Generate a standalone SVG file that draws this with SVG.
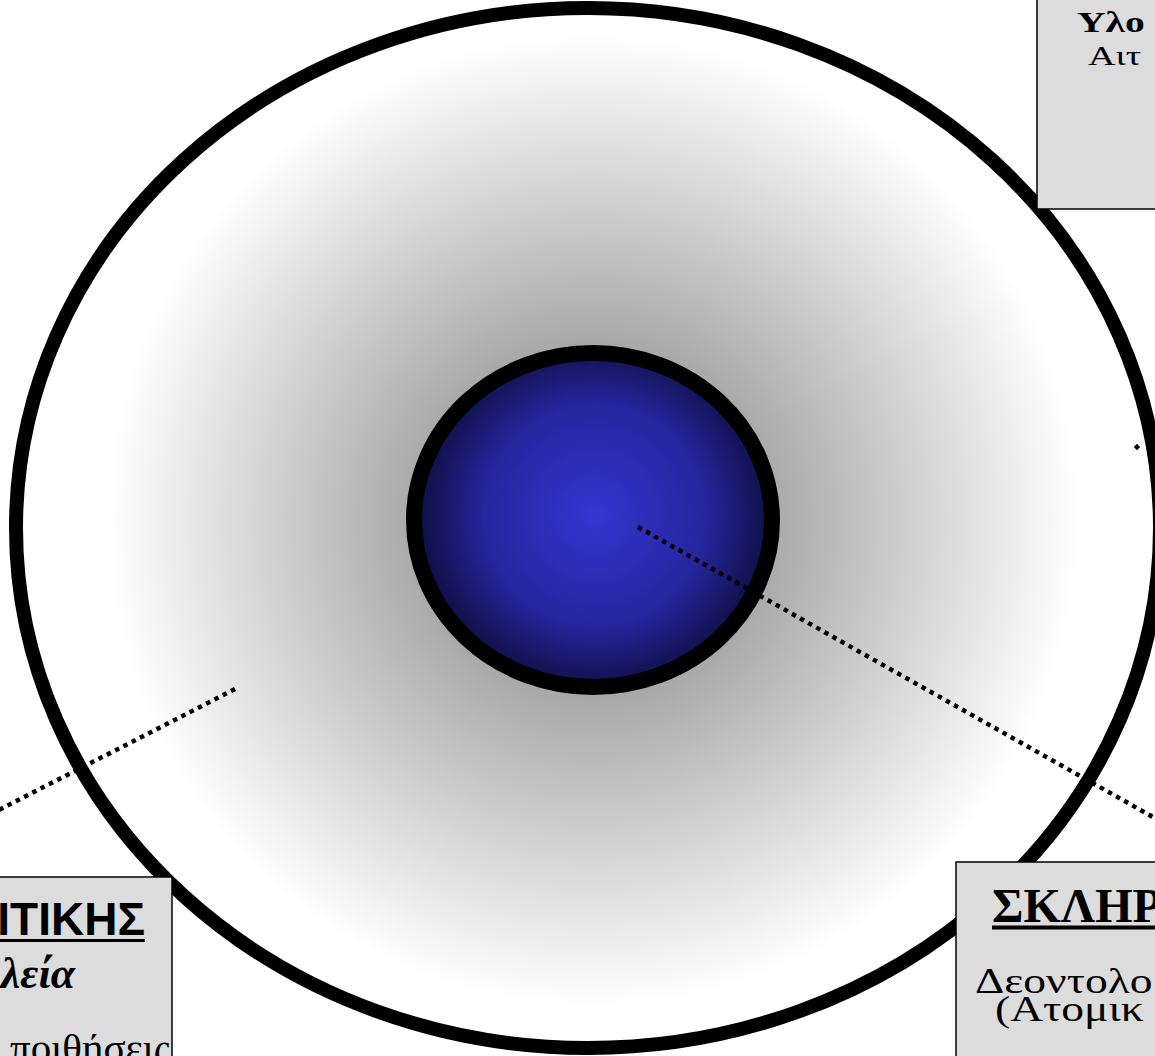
<svg xmlns="http://www.w3.org/2000/svg" width="1155" height="1056" viewBox="0 0 1155 1056">
  <defs>
    <radialGradient id="gOuter" gradientUnits="userSpaceOnUse" cx="593" cy="520" r="540">
      <stop offset="0" stop-color="#777777"/>
      <stop offset="0.9" stop-color="#ffffff"/>
      <stop offset="1" stop-color="#ffffff"/>
    </radialGradient>
    <radialGradient id="gInner" gradientUnits="userSpaceOnUse" cx="595" cy="515" r="185">
      <stop offset="0" stop-color="#3535d2"/>
      <stop offset="0.6" stop-color="#25259e"/>
      <stop offset="1" stop-color="#0c0c38"/>
    </radialGradient>
  </defs>
  <style>
    .box { fill: #dcdcdc; stroke: #000; stroke-width: 1.5; }
    .dot { fill: none; stroke: #000; stroke-width: 4.5; stroke-dasharray: 4.5 4.8; }
    .serif { font-family: "Liberation Serif", "Times New Roman", serif; fill: #000; }
    .sans { font-family: "Liberation Sans", Arial, sans-serif; fill: #000; }
    .ul { stroke: #000; }
  </style>
  <rect width="1155" height="1056" fill="#ffffff"/>

  <g id="outer-ring">
    <ellipse cx="588" cy="528" rx="572" ry="520" fill="url(#gOuter)" stroke="#000" stroke-width="14"/>
  </g>
  <g id="core">
    <ellipse cx="593" cy="520" rx="179" ry="167" fill="url(#gInner)" stroke="#000" stroke-width="16"/>
  </g>

  <g id="connectors">
    <line class="dot" x1="638" y1="527" x2="1160" y2="821"/>
    <line class="dot" x1="235" y1="689" x2="-5" y2="812"/>
    <line x1="1135.4" y1="448.6" x2="1138.6" y2="445.4" stroke="#000" stroke-width="4.5"/>
  </g>

  <g id="box-top-right">
    <rect class="box" x="1037" y="-10" width="140" height="219"/>
    <text class="serif" transform="translate(1077 32) scale(1.32 1)" font-size="30" font-weight="bold">Υλο</text>
    <text class="serif" transform="translate(1088 65) scale(1.36 1)" font-size="28">Αιτ</text>
  </g>

  <g id="box-bottom-left">
    <rect class="box" x="-10" y="877" width="182" height="200"/>
    <text class="sans" x="145" y="935" font-size="46" font-weight="bold" text-anchor="end">ΙΤΙΚΗΣ</text>
    <line class="ul" x1="0" y1="940.5" x2="145" y2="940.5" stroke-width="3"/>
    <text class="serif" x="75" y="988" font-size="44" font-weight="bold" font-style="italic" text-anchor="end">λεία</text>
    <text class="serif" x="170" y="1062" font-size="41" text-anchor="end">ποιθήσεις</text>
  </g>

  <g id="box-bottom-right">
    <rect class="box" x="956" y="862" width="210" height="210"/>
    <text class="serif" x="992" y="922" font-size="48" font-weight="bold">ΣΚΛΗΡ</text>
    <line class="ul" x1="992" y1="927.5" x2="1160" y2="927.5" stroke-width="4"/>
    <text class="serif" transform="translate(975 993) scale(1.3 1)" font-size="35">Δεοντολο</text>
    <text class="serif" transform="translate(995 1021) scale(1.3 1)" font-size="35">(Ατομικ</text>
  </g>
</svg>
